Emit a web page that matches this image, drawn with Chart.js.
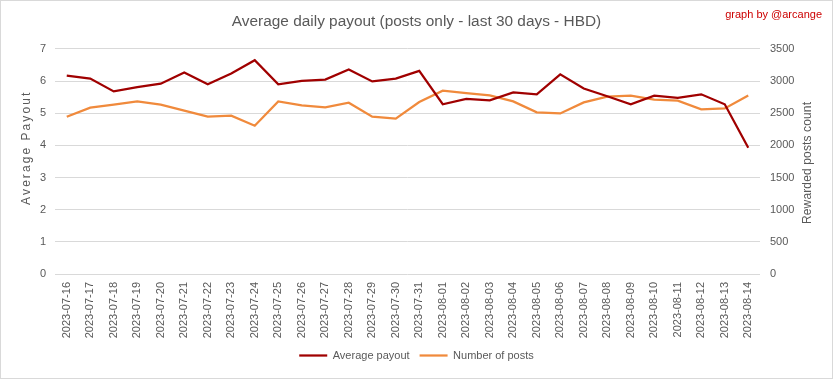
<!DOCTYPE html>
<html>
<head>
<meta charset="utf-8">
<script src="https://cdn.jsdelivr.net/npm/chart.js@4/dist/chart.umd.min.js"></script>
<style>
html,body{margin:0;padding:0;background:#fff;}
#wrap{width:833px;height:379px;}
</style>
</head>
<body>
<div id="wrap"><canvas id="c" width="833" height="379"></canvas></div>
<script>
const dates = ["2023-07-16","2023-07-17","2023-07-18","2023-07-19","2023-07-20","2023-07-21","2023-07-22","2023-07-23","2023-07-24","2023-07-25","2023-07-26","2023-07-27","2023-07-28","2023-07-29","2023-07-30","2023-07-31","2023-08-01","2023-08-02","2023-08-03","2023-08-04","2023-08-05","2023-08-06","2023-08-07","2023-08-08","2023-08-09","2023-08-10","2023-08-11","2023-08-12","2023-08-13","2023-08-14"];
const averagePayout = [6.17,6.08,5.68,5.81,5.92,6.27,5.90,6.24,6.65,5.90,6.01,6.05,6.36,5.99,6.08,6.32,5.28,5.45,5.40,5.65,5.59,6.21,5.77,5.53,5.28,5.55,5.48,5.59,5.28,3.93];
const numberOfPosts = [2447,2587,2633,2685,2633,2540,2447,2462,2307,2685,2623,2592,2665,2447,2416,2675,2851,2815,2778,2685,2514,2498,2669,2758,2773,2711,2696,2560,2576,2778];
const leftTicks = [0,1,2,3,4,5,6,7];
const rightTicks = [0,500,1000,1500,2000,2500,3000,3500];
const leftAxisTitle = 'Average Payout';
const rightAxisTitle = 'Rewarded posts count';

const FONT = "'Liberation Sans', Arial, sans-serif";
const GREY = '#595959';

function drawSpacedVertical(ctx, text, cx, cy, targetLen, size) {
  ctx.save();
  ctx.font = size + 'px ' + FONT;
  const w = ctx.measureText(text).width;
  const sp = Math.max(0, (targetLen - w) / (text.length - 1));
  ctx.translate(cx, cy);
  ctx.rotate(-Math.PI / 2);
  ctx.fillStyle = GREY;
  ctx.textBaseline = 'middle';
  ctx.textAlign = 'left';
  let x = -targetLen / 2;
  for (const ch of text) {
    ctx.fillText(ch, x, 0);
    x += ctx.measureText(ch).width + sp;
  }
  ctx.restore();
}

const framePlugin = {
  id: 'frame',
  beforeDraw(chart) {
    const ctx = chart.ctx;
    ctx.save();
    ctx.fillStyle = '#fff';
    ctx.fillRect(0, 0, chart.width, chart.height);
    ctx.restore();
  },
  afterDraw(chart) {
    const ctx = chart.ctx;
    ctx.save();
    ctx.strokeStyle = '#d9d9d9';
    ctx.lineWidth = 1;
    ctx.strokeRect(0.5, 0.5, chart.width - 1, chart.height - 1);
    ctx.fillStyle = '#cc0000';
    ctx.font = "11px " + FONT;
    ctx.textAlign = 'right';
    ctx.textBaseline = 'middle';
    ctx.fillText('graph by @arcange', 822, 15);
    ctx.restore();
    drawSpacedVertical(ctx, leftAxisTitle, 27, 149, 112, 12);
    drawSpacedVertical(ctx, rightAxisTitle, 808, 163, 122, 12);
  }
};

new Chart(document.getElementById('c'), {
  type: 'line',
  data: {
    labels: dates,
    datasets: [
      {
        label: 'Average payout',
        data: averagePayout,
        borderColor: '#a00000',
        backgroundColor: '#a00000',
        borderWidth: 2.25,
        pointRadius: 0,
        tension: 0,
        yAxisID: 'y'
      },
      {
        label: 'Number of posts',
        data: numberOfPosts,
        borderColor: '#f08a3c',
        backgroundColor: '#f08a3c',
        borderWidth: 2.25,
        pointRadius: 0,
        tension: 0,
        yAxisID: 'y1'
      }
    ]
  },
  options: {
    responsive: false,
    animation: false,
    layout: { padding: { left: 0, right: 0, top: 0, bottom: 8 } },
    plugins: {
      title: {
        display: true,
        text: 'Average daily payout (posts only - last 30 days - HBD)',
        color: GREY,
        font: { family: FONT, size: 15.4, weight: 'normal' },
        padding: { top: 13, bottom: 17.5 }
      },
      legend: {
        display: true,
        position: 'bottom',
        labels: {
          color: GREY,
          font: { family: FONT, size: 11 },
          usePointStyle: true,
          pointStyle: 'line',
          pointStyleWidth: 28,
          padding: 10
        }
      },
      tooltip: { enabled: false }
    },
    scales: {
      x: {
        type: 'category',
        offset: true,
        grid: { display: false, drawTicks: false },
        border: { display: false },
        ticks: {
          color: GREY,
          font: { family: FONT, size: 11 },
          minRotation: 90,
          maxRotation: 90,
          autoSkip: false,
          padding: 8
        },
        afterFit(scale) { scale.height = 66; }
      },
      y: {
        position: 'left',
        min: 0, max: 7,
        afterBuildTicks(scale) { scale.ticks = leftTicks.map(v => ({ value: v })); },
        grid: { color: '#d9d9d9', lineWidth: 1, drawTicks: false },
        border: { display: false },
        ticks: { color: GREY, font: { family: FONT, size: 11 }, padding: 9 },
        title: { display: false },
        afterFit(scale) { scale.width = 55; }
      },
      y1: {
        position: 'right',
        min: 0, max: 3500,
        afterBuildTicks(scale) { scale.ticks = rightTicks.map(v => ({ value: v })); },
        grid: { display: false, drawTicks: false },
        border: { display: false },
        ticks: {
          color: GREY,
          font: { family: FONT, size: 11 },
          padding: 10,
          callback: (v) => String(v)
        },
        title: { display: false },
        afterFit(scale) { scale.width = 73; }
      }
    }
  },
  plugins: [framePlugin]
});
</script>
</body>
</html>
